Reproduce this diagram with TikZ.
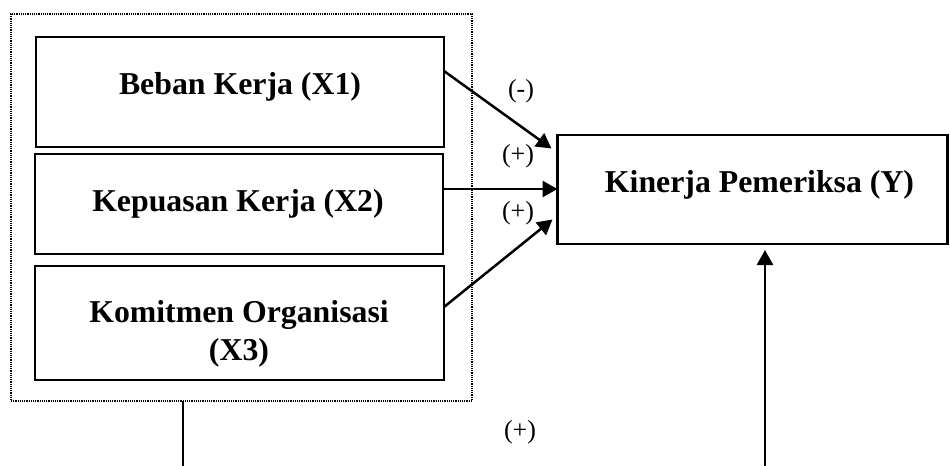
\documentclass[tikz,border=0pt]{standalone}
\usepackage{fontspec}
\setmainfont{Liberation Serif}
\usetikzlibrary{arrows.meta,positioning,calc}

\begin{document}
\begin{tikzpicture}[x=0.5pt,y=-0.5pt,
  varbox/.style={draw,line width=1.25pt,inner sep=0pt,outer sep=0pt},
  groupbox/.style={draw,line width=0.8pt,dash pattern=on 0.6pt off 0.5pt,inner sep=0pt,outer sep=0pt},
  boxtext/.style={font=\fontsize{15.9}{19}\selectfont\bfseries,align=center,anchor=base,inner sep=0pt},
  sign/.style={font=\fontsize{13}{15}\selectfont,inner sep=0pt},
  link/.style={line width=1.25pt,-{Triangle[length=7.5pt,width=8pt]}},
  plain/.style={line width=1.25pt}]

  \useasboundingbox (0,0) rectangle (950,466);

  % group of independent variables
  \node[groupbox,minimum width=230.5pt,minimum height=193.5pt] (grp) at (241.5,207.5) {};

  \node[varbox,minimum width=204pt,minimum height=55pt] (x1) at (240,92) {};
  \node[varbox,minimum width=204pt,minimum height=50pt] (x2) at (239,204) {};
  \node[varbox,minimum width=204.5pt,minimum height=57pt] (x3) at (239.5,323) {};

  % dependent variable
  \node[varbox,minimum width=195pt,minimum height=54.5pt] (y) at (752.5,189.5) {};

  % box captions (base anchor = baseline of the last line)
  \node[boxtext] (tx1) at (240,95) {Beban Kerja (X1)};
  \node[boxtext] (tx2) at (238,212) {Kepuasan Kerja (X2)};
  \node[boxtext] (tx3) at (239,360) {Komitmen Organisasi\\(X3)};
  \node[boxtext] (ty) at (759.5,192) {Kinerja Pemeriksa (Y)};

  % direct effects
  \draw[link] ([yshift=10.5pt]x1.east) -- ([xshift=-3pt,yshift=20.5pt]y.west);
  \draw[link] ([yshift=7.5pt]x2.east) -- ([yshift=0.25pt]y.west);
  \draw[link] ([yshift=8pt]x3.east) -- ([xshift=-2.5pt,yshift=-15pt]y.west);

  \node[sign] (s1) at (521,91) {(-)};
  \node[sign] (s2) at (518,156) {(+)};
  \node[sign] (s3) at (518,213) {(+)};

  % joint effect
  \coordinate (gout) at (183,466);
  \coordinate (yin) at (765,466);
  \draw[plain] ([xshift=-29.25pt]grp.south) -- (gout);
  \draw[link] (yin) -- ([xshift=6.25pt,yshift=-3pt]y.south);
  \node[sign] (s4) at (520,432) {(+)};
\end{tikzpicture}
\end{document}
